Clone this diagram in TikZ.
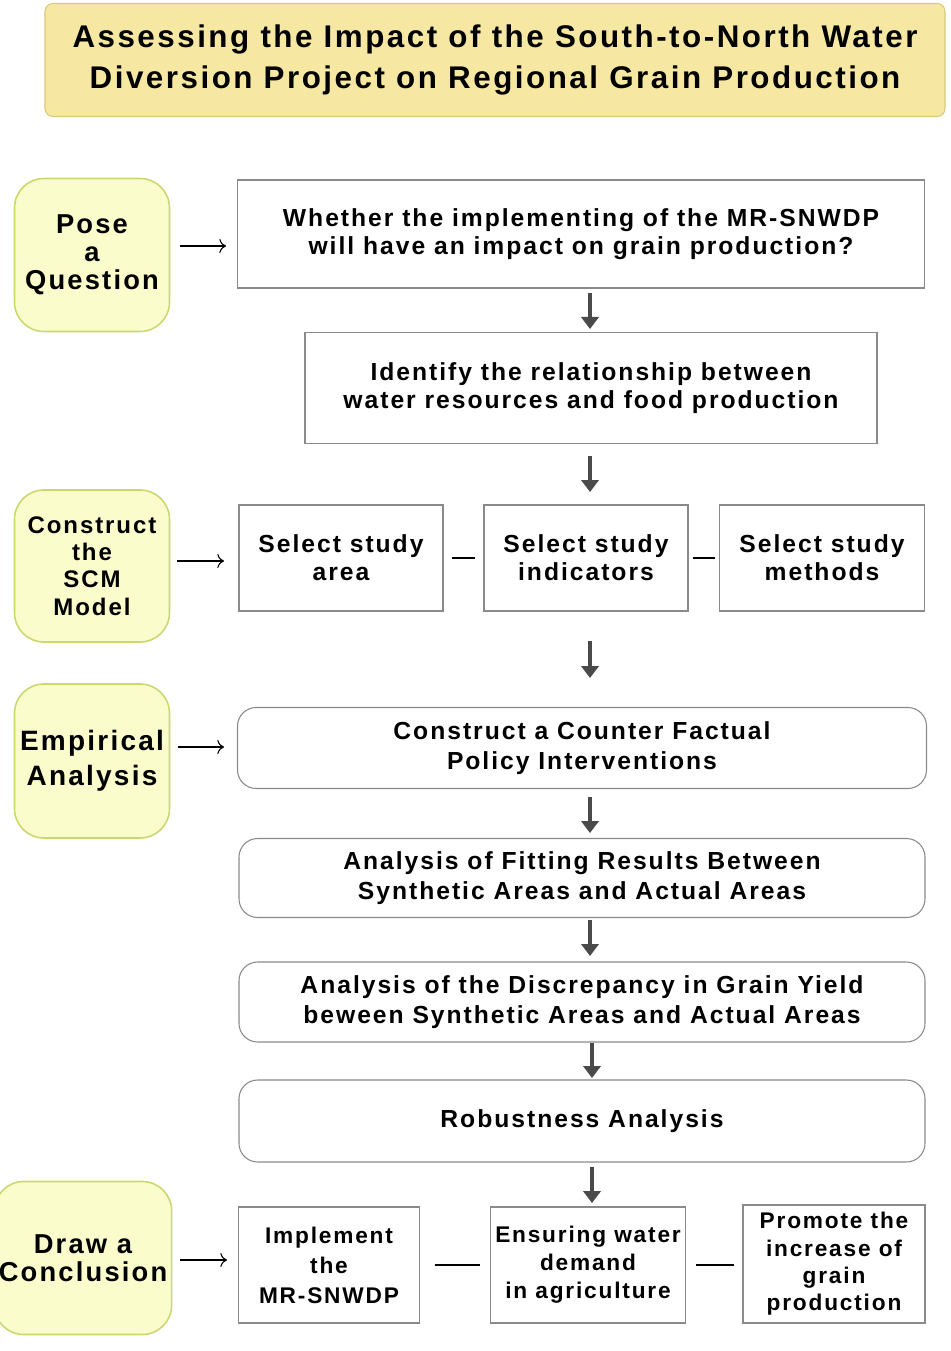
\documentclass[tikz,border=0pt]{standalone}
\usepackage{fontspec}
\setmainfont{Liberation Sans}[LetterSpace=8]
\usetikzlibrary{arrows.meta}
\definecolor{titlefill}{HTML}{F6E7A2}
\definecolor{titledraw}{HTML}{D9C97A}
\definecolor{sidefill}{HTML}{FAFCCB}
\definecolor{sidedraw}{HTML}{C9D96E}
\definecolor{boxdraw}{HTML}{8A8A8A}
\definecolor{arr}{HTML}{4A4A4A}
\begin{document}
\begin{tikzpicture}[x=0.75pt,y=-0.75pt,
  side/.style={draw=sidedraw,fill=sidefill,line width=1.2pt,rounded corners=22pt,align=center,font=\fontsize{20.5}{21}\selectfont\bfseries},
  box/.style={draw=boxdraw,line width=0.8pt,align=center,font=\fontsize{18.5}{21}\selectfont\bfseries},
  rbox/.style={box,rounded corners=14pt,font=\fontsize{18.5}{23}\selectfont\bfseries},
  thick arrow/.style={arr,line width=3.5pt,-{Triangle[length=9pt,width=13pt]}},
  small arrow/.style={-{To[length=5pt]},line width=0.8pt},
  link/.style={line width=0.9pt}]
\useasboundingbox (0,0) rectangle (950,1351);
\node[draw=titledraw,fill=titlefill,rounded corners=6pt,line width=0.8pt,minimum width=900*0.75pt,minimum height=113*0.75pt,align=center,font=\fontsize{23.5}{31}\selectfont\bfseries] (title) at (495,60) {Assessing the Impact of the South-to-North Water\\Diversion Project on Regional Grain Production};
% side nodes
\node[side,minimum width=155*0.75pt,minimum height=153*0.75pt] (pose) at (92,255) {Pose\\a\\Question};
\node[side,minimum width=155*0.75pt,minimum height=152*0.75pt,font=\fontsize{18}{20.5}\selectfont\bfseries] (scm) at (92,566) {Construct\\the\\SCM\\Model};
\node[side,minimum width=155*0.75pt,minimum height=154*0.75pt,font=\fontsize{21}{26}\selectfont\bfseries] (emp) at (92,761) {Empirical\\Analysis};
\node[side,minimum width=157*0.75pt,minimum height=153*0.75pt] (concl) at (83,1258) {Draw a\\Conclusion};
% boxes
\node[box,minimum width=687*0.75pt,minimum height=108*0.75pt] (q) at (581,234) {Whether the implementing of the MR-SNWDP\\will have an impact on grain production?};
\node[box,minimum width=572*0.75pt,minimum height=111*0.75pt] (id) at (591,388) {Identify the relationship between\\water resources and food production};
\node[box,minimum width=204*0.75pt,minimum height=106*0.75pt] (sa) at (341,558) {Select study\\area};
\node[box,minimum width=204*0.75pt,minimum height=106*0.75pt] (si) at (586,558) {Select study\\indicators};
\node[box,minimum width=205*0.75pt,minimum height=106*0.75pt] (sm) at (822,558) {Select study\\methods};
\node[rbox,minimum width=689*0.75pt,minimum height=81*0.75pt] (cf) at (582,748) {Construct a Counter Factual\\Policy Interventions};
\node[rbox,minimum width=686*0.75pt,minimum height=79*0.75pt] (fit) at (582,878) {Analysis of Fitting Results Between\\Synthetic Areas and Actual Areas};
\node[rbox,minimum width=686*0.75pt,minimum height=80*0.75pt] (dis) at (582,1002) {Analysis of the Discrepancy in Grain Yield\\beween Synthetic Areas and Actual Areas};
\node[rbox,minimum width=686*0.75pt,minimum height=82*0.75pt] (rob) at (582,1121) {Robustness Analysis};
\node[box,minimum width=181*0.75pt,minimum height=116*0.75pt,font=\fontsize{17}{22.5}\selectfont\bfseries] (imp) at (329,1265) {Implement\\the\\MR-SNWDP};
\node[box,minimum width=182*0.75pt,minimum height=116*0.75pt,font=\fontsize{17}{21}\selectfont\bfseries] (ens) at (588,1265) {Ensuring water\\demand\\in agriculture};
\node[box,minimum width=182*0.75pt,minimum height=118*0.75pt,font=\fontsize{17}{20.5}\selectfont\bfseries] (pro) at (834,1264) {Promote the\\increase of\\grain\\production};
% small arrows
\coordinate (a1s) at (180,246); \coordinate (a1e) at (226,246);
\coordinate (a2s) at (177,561); \coordinate (a2e) at (224,561);
\coordinate (a3s) at (178,747); \coordinate (a3e) at (224,747);
\coordinate (a4s) at (180,1260); \coordinate (a4e) at (227,1260);
\draw[small arrow] (a1s) -- (a1e);
\draw[small arrow] (a2s) -- (a2e);
\draw[small arrow] (a3s) -- (a3e);
\draw[small arrow] (a4s) -- (a4e);
% links
\draw[link] ([xshift=6pt]sa.east) -- ([xshift=-6pt]si.west);
\draw[link] ([xshift=3pt]si.east) -- ([xshift=-3pt]sm.west);
\draw[link] ([xshift=11pt]imp.east) -- ([xshift=-8pt]ens.west);
\draw[link] ([xshift=8pt]ens.east) -- ([xshift=-6pt]ens.east -| pro.west);
% thick arrows
\draw[thick arrow] (590,293) -- (590,329);
\draw[thick arrow] (590,456) -- (590,492);
\draw[thick arrow] (590,641) -- (590,678);
\draw[thick arrow] (590,797) -- (590,833);
\draw[thick arrow] (590,920) -- (590,956);
\draw[thick arrow] (592,1043) -- (592,1078);
\draw[thick arrow] (592,1167) -- (592,1203);
\end{tikzpicture}
\end{document}
